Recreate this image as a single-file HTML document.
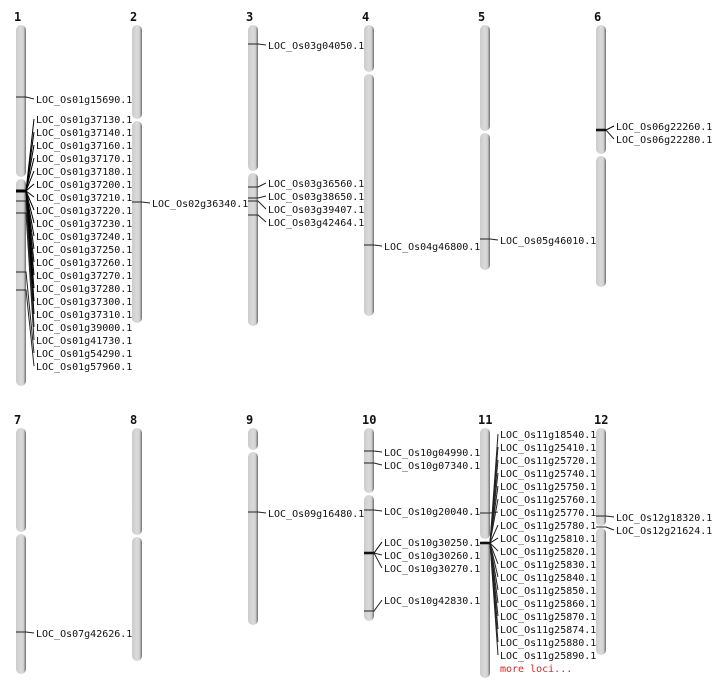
<!DOCTYPE html>
<html><head><meta charset="utf-8"><style>
html,body{margin:0;padding:0;background:#fff;width:712px;height:700px;overflow:hidden}
text{font-family:"DejaVu Sans Mono","Liberation Mono",monospace;font-size:10px;fill:#111}
.t{font-weight:bold;font-size:12px}
</style></head><body>
<svg id="s" width="712" height="700" xmlns="http://www.w3.org/2000/svg">
<defs><linearGradient id="g" x1="0" x2="1" y1="0" y2="0">
<stop offset="0" stop-color="#cccccc"/><stop offset="0.5" stop-color="#dadada"/><stop offset="0.75" stop-color="#d2d2d2"/><stop offset="1" stop-color="#6e6e6e"/></linearGradient></defs>
</svg>
<script>
const s=document.getElementById('s');let h='';
const chr=[
[1,16,25,386,178],[2,132,25,323,120],[3,248,25,326,172],[4,364,25,316,73],[5,480,25,270,132],[6,596,25,287,155],
[7,16,428,674,533],[8,132,428,661,536],[9,248,428,625,451],[10,364,428,621,494],[11,480,428,678,540],[12,596,428,655,527]];
for(const [n,x,t,b,c] of chr){
 h+=`<text class="t" x="${x-2}" y="${t-4}">${n}</text>`;
 h+=`<rect x="${x}" y="${t}" width="10" height="${c-t-1}" rx="5" fill="url(#g)"/>`;
 h+=`<rect x="${x}" y="${c+1}" width="10" height="${b-c-1}" rx="5" fill="url(#g)"/>`;
}
function L(x,marks){
 for(const [m,l,tx,th] of marks){
  h+=`<polyline points="${x},${m} ${x+10},${m} ${x+18},${l}" fill="none" stroke="${th?'#000':'#222'}" stroke-width="1"/>`;
  if(th)h+=`<line x1="${x}" y1="${m}" x2="${x+10}" y2="${m}" stroke="#000" stroke-width="2.5"/>`;
  h+=`<text x="${x+20}" y="${l+4}">${tx}</text>`;
 }
}
let m1=[[97,99,'LOC_Os01g15690.1']];
const c1=['37130','37140','37160','37170','37180','37200','37210','37220','37230','37240','37250','37260','37270','37280','37300','37310'];
c1.forEach((g,i)=>m1.push([191,119+13*i,'LOC_Os01g'+g+'.1',1]));
m1.push([201,327,'LOC_Os01g39000.1'],[213,340,'LOC_Os01g41730.1'],[272,353,'LOC_Os01g54290.1'],[290,366,'LOC_Os01g57960.1']);
L(16,m1);
L(132,[[202,203,'LOC_Os02g36340.1']]);
L(248,[[44,45,'LOC_Os03g04050.1'],[187,183,'LOC_Os03g36560.1'],[198,196,'LOC_Os03g38650.1'],[201,209,'LOC_Os03g39407.1'],[215,222,'LOC_Os03g42464.1']]);
L(364,[[245,246,'LOC_Os04g46800.1']]);
L(480,[[239,240,'LOC_Os05g46010.1']]);
L(596,[[130,126,'LOC_Os06g22260.1',1],[130,139,'LOC_Os06g22280.1']]);
L(16,[[632,633,'LOC_Os07g42626.1']]);
L(248,[[512,513,'LOC_Os09g16480.1']]);
L(364,[[451,452,'LOC_Os10g04990.1'],[463,465,'LOC_Os10g07340.1'],[510,511,'LOC_Os10g20040.1'],[553,542,'LOC_Os10g30250.1',1],[553,555,'LOC_Os10g30260.1'],[553,568,'LOC_Os10g30270.1'],[611,600,'LOC_Os10g42830.1']]);
const c11=['18540','25410','25720','25740','25750','25760','25770','25780','25810','25820','25830','25840','25850','25860','25870','25874','25880','25890'];
let m11=[];c11.forEach((g,i)=>m11.push([i==6?513:543,434+13*i,'LOC_Os11g'+g+'.1',i==8]));
L(480,m11);
h+=`<text x="500" y="672" style="fill:#d22">more loci...</text>`;
L(596,[[516,517,'LOC_Os12g18320.1'],[527,530,'LOC_Os12g21624.1']]);
s.innerHTML+=h;
</script>
</body></html>
